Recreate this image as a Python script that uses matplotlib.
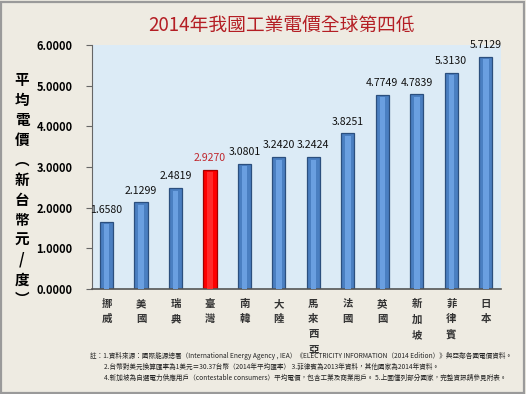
import matplotlib
matplotlib.use("Agg")
import matplotlib.pyplot as plt
from matplotlib.patches import Rectangle

plt.rcParams["font.family"] = ["Noto Sans CJK TC", "DejaVu Sans"]

countries = ["挪威", "美國", "瑞典", "臺灣", "南韓", "大陸", "馬來西亞",
             "法國", "英國", "新加坡", "菲律賓", "日本"]
prices = [1.6580, 2.1299, 2.4819, 2.9270, 3.0801, 3.2420, 3.2424,
          3.8251, 4.7749, 4.7839, 5.3130, 5.7129]
highlight = "臺灣"
yticks = [0, 1, 2, 3, 4, 5, 6]

title = "2014年我國工業電價全球第四低"
ylabel_chars = ["平", "均", "電", "價", "︵", "新", "台", "幣", "元", "/", "度", "︶"]
notes = [
    "註：1.資料來源：國際能源總署（International Energy Agency , IEA）《ELECTRICITY INFORMATION（2014 Edition）》與亞鄰各國電價資料。",
    "2.台幣對美元換算匯率為1美元＝30.37台幣（2014年平均匯率） 3.菲律賓為2013年資料，其他國家為2014年資料。",
    "4.新加坡為自選電力供應用戶（contestable consumers）平均電價，包含工業及商業用戶。 5.上圖僅列部分國家，完整資訊請參見附表。",
]

BG = "#eeebe2"
fig = plt.figure(figsize=(5.26, 3.94), dpi=100, facecolor=BG)
fig.patches.append(Rectangle((0.002, 0.003), 0.995, 0.993, transform=fig.transFigure,
                             fill=False, edgecolor="#9a9a9a", linewidth=1.6))
ax = fig.add_axes([0.175, 0.266, 0.778, 0.620])
ax.set_facecolor("#dcebf6")

x = list(range(len(countries)))
cols = ["#ff0000" if c == highlight else "#4a7fc1" for c in countries]
edges = ["#a00000" if c == highlight else "#2b4f7e" for c in countries]
ax.bar(x, prices, width=0.38, color=cols, edgecolor=edges, linewidth=0.9, zorder=2)
inner = ["#ff2a2a" if c == highlight else "#6a9fe0" for c in countries]
ax.bar(x, [p - 0.06 for p in prices], width=0.16, color=inner, linewidth=0, zorder=3)

for xi, c, p in zip(x, countries, prices):
    ax.text(xi, p + 0.17, f"{p:.4f}", ha="center", va="bottom", fontsize=7.6,
            color="#c0272d" if c == highlight else "#111111", clip_on=False)

ax.set_xlim(-0.42, 11.45)
ax.set_ylim(0, 6)
ax.set_yticks(yticks)
ax.set_yticklabels([f"{v:.4f}" for v in yticks], fontsize=8, fontweight="bold")
ax.set_xticks(x)
ax.set_xticklabels(["\n".join(c) for c in countries], fontsize=7.5,
                   fontweight="bold", color="#333333", va="top", linespacing=1.65)
ax.tick_params(axis="x", length=0, pad=7)
ax.tick_params(axis="y", length=4, width=0.8, color="#666666", pad=10)
for s in ("top", "right"):
    ax.spines[s].set_visible(False)
ax.spines["left"].set_color("#666666")
ax.spines["bottom"].set_color("#555555")
ax.spines["bottom"].set_linewidth(1.2)

fig.text(0.535, 0.935, title, ha="center", va="center", fontsize=13.5,
         color="#b41e24", fontweight="medium")
fig.text(0.042, 0.518, "\n".join(ylabel_chars), ha="center", va="center",
         fontsize=10.5, fontweight="bold", linespacing=1.3)

fig.text(0.172, 0.097, notes[0], fontsize=4.75, va="center", ha="left", color="#222222")
fig.text(0.197, 0.068, notes[1], fontsize=4.75, va="center", ha="left", color="#222222")
fig.text(0.197, 0.040, notes[2], fontsize=4.75, va="center", ha="left", color="#222222")

fig.savefig("out.png", dpi=100, facecolor=BG)
